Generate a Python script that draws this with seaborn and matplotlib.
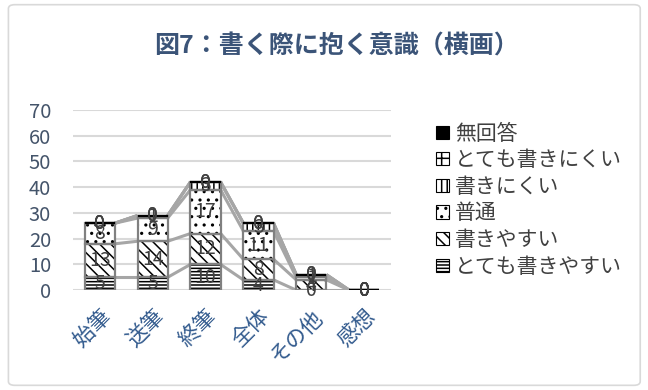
import numpy as np
import matplotlib
matplotlib.use('Agg')
import matplotlib.pyplot as plt
import seaborn as sns
from matplotlib.patches import Rectangle, FancyBboxPatch

# Data (図7 書く際に抱く意識 横画)
categories = ['始筆', '送筆', '終筆', '全体', 'その他', '感想']
series_names = ['とても書きやすい', '書きやすい', '普通', '書きにくい', 'とても書きにくい', '無回答']
very_easy = [5, 5, 10, 4, 0, 0]
easy = [13, 14, 12, 8, 4, 0]
normal = [8, 9, 17, 11, 1, 0]
hard = [0, 1, 3, 3, 1, 0]
very_hard = [0, 0, 0, 0, 0, 0]
no_answer = [0, 0, 0, 0, 0, 0]
yticks = [0, 10, 20, 30, 40, 50, 60, 70]

series_vals = [very_easy, easy, normal, hard, very_hard, no_answer]
hatches = ['-----', '\\\\\\', '..', '|||', '+', '']
faces = ['white', 'white', 'white', 'white', 'white', 'black']

sns.set_style('white')
plt.rcParams['font.family'] = ['Noto Sans CJK JP', 'DejaVu Sans']
plt.rcParams['hatch.linewidth'] = 1.1

TITLE_C = '#3B5478'
AXIS_C = '#44546A'
CAT_C = '#335B8E'
LBL_C = '#404040'

fig = plt.figure(figsize=(6.48, 3.9), dpi=100)
ax = fig.add_axes([0.113, 0.256, 0.49, 0.462])

bottom = np.zeros(len(categories))
for name, vals, hatch, face in zip(series_names, series_vals, hatches, faces):
    sns.barplot(x=categories, y=vals, bottom=bottom, color=face, saturation=1,
                hatch=hatch, edgecolor='black', linewidth=0, width=0.57,
                label=name, ax=ax, zorder=3)
    bottom = bottom + np.array(vals)
if ax.get_legend() is not None:
    ax.get_legend().remove()

# outlines, series lines and value labels
for cont, vals, face in zip(ax.containers, series_vals, faces):
    pts = list(cont.patches)
    for p in pts:
        ax.add_patch(Rectangle(p.get_xy(), p.get_width(), p.get_height(), fill=False,
                               ec='#808080' if face == 'white' else 'black', lw=1.6, zorder=4))
    for p, q in zip(pts[:-1], pts[1:]):
        ax.plot([p.get_x() + p.get_width(), q.get_x()],
                [p.get_y() + p.get_height(), q.get_y() + q.get_height()],
                color='#A6A6A6', lw=2.2, zorder=2, solid_capstyle='butt')
    ax.bar_label(cont, labels=[str(v) for v in vals], label_type='center',
                 fontsize=14, color=LBL_C, zorder=6)

ax.set_ylim(0, 70)
ax.set_xlim(-0.5, len(categories) - 0.5)
ax.set_yticks(yticks)
ax.yaxis.grid(True, color='#D9D9D9', lw=1.5, zorder=0)
ax.set_axisbelow(True)
for s in ax.spines.values():
    s.set_visible(False)
ax.tick_params(axis='y', length=0, pad=16, labelsize=14.5, labelcolor=AXIS_C)
ax.tick_params(axis='x', length=0, pad=11, labelsize=15.5, labelcolor=CAT_C)
plt.setp(ax.get_xticklabels(), rotation=45, ha='right', rotation_mode='anchor')
ax.set_xlabel('')
ax.set_ylabel('')

handles = list(ax.containers)
leg = fig.legend(handles[::-1], series_names[::-1], loc='upper left',
                 bbox_to_anchor=(0.66, 0.707), frameon=False,
                 handlelength=0.6, handleheight=0.6, handletextpad=0.3,
                 labelspacing=0.22, fontsize=15, borderaxespad=0)
for t in leg.get_texts():
    t.set_color(LBL_C)
for h in leg.legend_handles:
    h.set_linewidth(0.8)
    h.set_edgecolor('black')

fig.text(0.52, 0.88, '図7：書く際に抱く意識（横画）', ha='center', va='center',
         fontsize=18, fontweight='bold', color=TITLE_C)

fig.patches.append(FancyBboxPatch((0.013, 0.012), 0.975, 0.976,
                                  boxstyle='round,pad=0,rounding_size=0.01',
                                  transform=fig.transFigure, fill=False,
                                  ec='#D9D9D9', lw=1.2))

fig.savefig('out.png', dpi=100)
